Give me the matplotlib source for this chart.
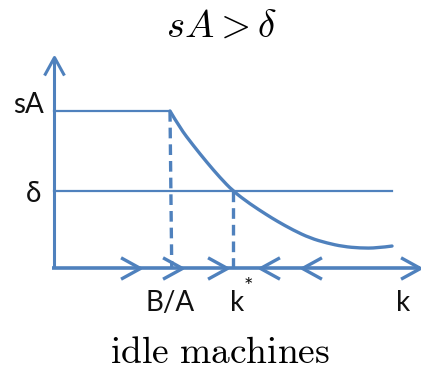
"""
Phase diagram for idle machines: return on capital sA versus depreciation delta.
"""

import numpy as np
import matplotlib.pyplot as plt
from matplotlib.path import Path
from matplotlib.patches import PathPatch

# ---------------------------------------------------------------------------
# DATA
# ---------------------------------------------------------------------------

SA = 1.0          # flat return while capital is below B/A
DELTA = 0.490     # depreciation rate
B_A = 1.0         # threshold capital B/A
K_STAR = 1.543    # steady state, where the curve crosses delta
K_MAX = 3.155     # end of the k axis
Y_MAX = 1.344     # top of the vertical axis
DELTA_END = 2.914

# declining return once machines start sitting idle
curve_k = [1.0, 1.086, 1.198, 1.319, 1.431, 1.543, 1.690, 1.836, 1.922,
           2.060, 2.207, 2.353, 2.491, 2.638, 2.784, 2.914]
curve_v = [1.0, 0.892, 0.783, 0.672, 0.576, 0.490, 0.408, 0.338, 0.299,
           0.242, 0.191, 0.159, 0.137, 0.127, 0.127, 0.140]

# direction of motion along the k axis
right_arrows = [0.741, 1.103, 1.491]
left_arrows = [1.776, 2.138]

tick_pos = [B_A, K_STAR, 3.01]
tick_labels = ["B/A", "k", "k"]

BLUE = "#4F81BD"
INK = "#111111"

# open chevron markers (tip at the data point)
CHEV_RIGHT = Path([(-1, 0.55), (0, 0), (-1, -0.55)],
                  [Path.MOVETO, Path.LINETO, Path.LINETO])
CHEV_LEFT = Path([(1, 0.55), (0, 0), (1, -0.55)],
                 [Path.MOVETO, Path.LINETO, Path.LINETO])
CHEV_UP = Path([(-0.55, -1), (0, 0), (0.55, -1)],
               [Path.MOVETO, Path.LINETO, Path.LINETO])


def smooth_path(xs, ys):
    """Quadratic B-spline style path: points act as control points."""
    pts = np.column_stack([xs, ys])
    verts = [pts[0]]
    codes = [Path.MOVETO]
    for i in range(1, len(pts) - 1):
        mid = (pts[i] + pts[i + 1]) / 2
        if i == len(pts) - 2:
            mid = pts[i + 1]
        verts += [pts[i], mid]
        codes += [Path.CURVE3, Path.CURVE3]
    return Path(verts, codes)


plt.rcParams["mathtext.fontset"] = "cm"

fig = plt.figure(figsize=(4.21, 3.74), dpi=100)
ax = fig.add_axes([0, 0, 1, 1])
ax.set_xlim(-0.4655, 3.1638)
ax.set_ylim(-0.675, 1.707)
ax.axis("off")

# axes
ax.plot([0, 0], [0, Y_MAX], color=BLUE, lw=2.2, solid_capstyle="butt")
ax.plot([-0.02, K_MAX], [0, 0], color=BLUE, lw=2.6, solid_capstyle="butt")
ax.plot([0], [Y_MAX], marker=CHEV_UP, ms=26, mfc="none", mec=BLUE, mew=2.2)
ax.plot([K_MAX], [0], marker=CHEV_RIGHT, ms=28, mfc="none", mec=BLUE, mew=2.4)

# sA and delta levels
ax.plot([0, B_A], [SA, SA], color=BLUE, lw=1.6)
ax.plot([0, DELTA_END], [DELTA, DELTA], color=BLUE, lw=1.6)

# return curve
ax.add_patch(PathPatch(smooth_path(curve_k, curve_v), fill=False,
                       edgecolor=BLUE, lw=2.4, capstyle="round"))

# dashed guides
ax.plot([B_A, B_A + 0.015], [SA, 0], color=BLUE, lw=2.4, dashes=(3.2, 1.8))
ax.plot([K_STAR, K_STAR], [DELTA, 0], color=BLUE, lw=2.4, dashes=(3.2, 1.8))

# motion arrows on the k axis
ax.plot(right_arrows, np.zeros(len(right_arrows)), ls="none",
        marker=CHEV_RIGHT, ms=28, mfc="none", mec=BLUE, mew=2.4)
ax.plot(left_arrows, np.zeros(len(left_arrows)), ls="none",
        marker=CHEV_LEFT, ms=28, mfc="none", mec=BLUE, mew=2.4)

# labels
lab = dict(fontsize=20, family="Lato", color=INK, ha="center", va="center")
ax.text(-0.216, 1.04, "sA", **lab)
ax.text(-0.18, DELTA - 0.02, "δ", **lab)
ax.text(tick_pos[0], -0.223, tick_labels[0], **lab)
ax.text(tick_pos[1] + 0.035, -0.223, tick_labels[1], **lab)
ax.text(1.672, -0.12, "*", fontsize=16, family="Lato", color=INK,
        ha="center", va="center")
ax.text(tick_pos[2], -0.223, tick_labels[2], **lab)

fig.text(0.525, 0.932, r"$sA > \delta$", fontsize=28, ha="center", va="center")
fig.text(0.522, 0.055, r"$\mathrm{idle\ machines}$", fontsize=27,
         ha="center", va="center")

fig.savefig("out.png", dpi=100)
